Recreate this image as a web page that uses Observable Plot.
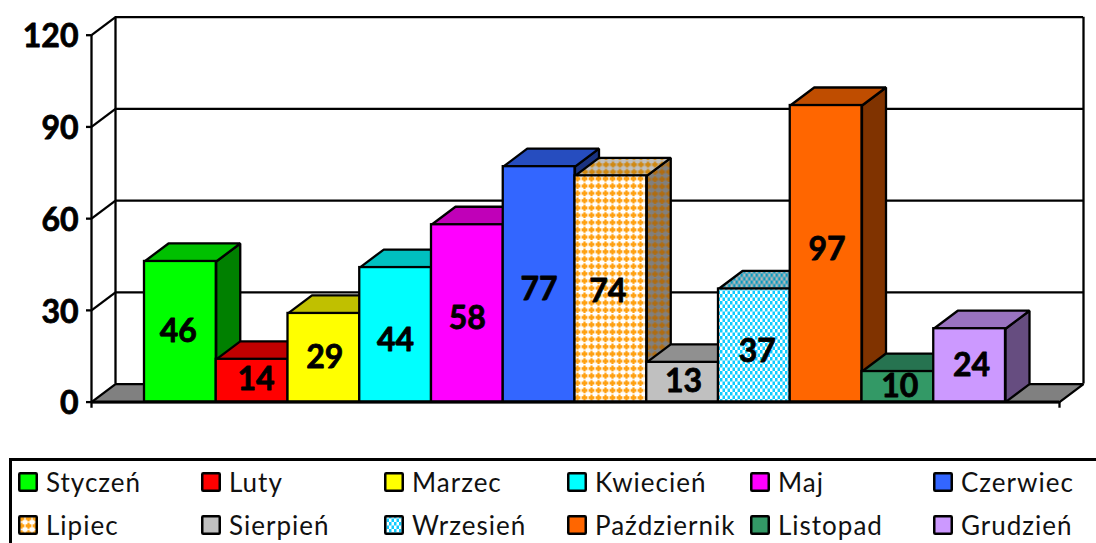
<!DOCTYPE html>
<html><head><meta charset="utf-8">
<script src="https://cdn.jsdelivr.net/npm/d3@7"></script>
<script src="https://cdn.jsdelivr.net/npm/@observablehq/plot@0.6"></script>
<style>
html,body{margin:0;padding:0;background:#fff;overflow:hidden}
#chart svg{display:block}
#legend{box-sizing:border-box;margin-left:9px;height:85px;border-top:3px solid #000;border-left:3px solid #000;
 padding:9px 0 0 6px;display:grid;grid-template-columns:repeat(6,183px);grid-auto-rows:43px;
 font:26px Lato,sans-serif;letter-spacing:1px;color:#111;align-items:start}
#legend .it{display:flex;align-items:center;height:23px}
#legend svg{width:20px;height:20px;margin-right:8px;flex:none;display:block}
</style></head><body>
<div id="chart"></div><div id="legend"></div>
<script>
const months=["Styczeń","Luty","Marzec","Kwiecień","Maj","Czerwiec","Lipiec","Sierpień","Wrzesień","Październik","Listopad","Grudzień"];
const values=[46,14,29,44,58,77,74,13,37,97,10,24];
const yTicks=[0,30,60,90,120];
const frontColors=["#00ff00","#ff0000","#ffff00","#00ffff","#ff00ff","#3366ff","url(#pLipF)","#c0c0c0","url(#pWrzF)","#ff6600","#339966","#cc99ff"];
const topColors=["#00c000","#c00000","#c0c000","#00c0c0","#c000b8","#264dbf","url(#pLipT)","#909090","url(#pWrzT)","#bf4d00","#267350","#9973bf"];
const sideColors=["#008000","#800000","#808000","#008080","#800080","#1a3380","url(#pLipS)","#606060","url(#pWrzS)","#803300","#1a4d33","#664d80"];
// hand-placed data-label offsets, pixels from each bar's centre
const labelDx=[-2,4,1,0,0,0,-3,1,3,1,2,2];
const labelDy=[0,-1,0,6,5.5,5.5,3,0,6,-4,0,0];

// depth and axis extents, in scale units
const barPx=(1005-144)/12, unitPx=(401.6-34.7)/120;
const dX=24/barPx, dY=18/unitPx;
const xL=-53/barPx, xR=12+54/barPx;
const sw=2.3;

function pattern(id,w,h,bg,fg,shape){
  return `<pattern id="${id}" width="${w}" height="${h}" patternUnits="userSpaceOnUse"><rect width="${w}" height="${h}" fill="${bg}"/>${shape(fg)}</pattern>`;
}
const blob=c=>`<path d="M2.4 0.5H4.6V2H6.4V5H4.6V6.5H2.4V5H0.6V2H2.4Z" fill="${c}"/>`;
const check=c=>`<rect width="2.5" height="3.5" fill="${c}"/><rect x="2.5" y="3.5" width="2.5" height="3.5" fill="${c}"/>`;
const defsMark=()=>{
  const g=document.createElementNS("http://www.w3.org/2000/svg","defs");
  g.innerHTML=pattern("pLipF",7,7.3,"#fff","#ffa010",blob)+pattern("pLipT",7,7.3,"#c0c0c0","#d08810",blob)+pattern("pLipS",7,7.3,"#808080","#b06c10",blob)
   +pattern("pWrzF",5,7,"#fff","#10ccff",check)+pattern("pWrzT",5,7,"#b8b8b8","#0a9abf",check)+pattern("pWrzS",5,7,"#808080","#086a80",check);
  return g;
};
const poly=(pts,fill)=>Plot.line(pts.map(([x,y])=>({x,y})),{x:"x",y:"y",fill,stroke:"#000",strokeWidth:sw,curve:"linear-closed",strokeLinejoin:"miter"});

const bars=values.flatMap((v,i)=>[
  poly([[i+1,0],[i+1+dX,dY],[i+1+dX,v+dY],[i+1,v]],sideColors[i]),
  poly([[i,v],[i+dX,v+dY],[i+1+dX,v+dY],[i+1,v]],topColors[i]),
  Plot.rect([v],{x1:i,x2:i+1,y1:0,y2:v,fill:frontColors[i],stroke:"#000",strokeWidth:sw})
]);

const labelFont={fontSize:32,fontWeight:700,fontFamily:"Lato, sans-serif",fill:"#000",stroke:"#000",strokeWidth:.8};

const plot=Plot.plot({
  width:1096,height:458,margin:0,
  x:{domain:[0,12],range:[144,1005],axis:null},
  y:{domain:[0,120],range:[401.6,34.7],axis:null},
  style:{background:"transparent"},
  marks:[
    defsMark,
    Plot.link(yTicks.slice(1),{x1:xL,x2:xL+dX,y1:d=>d,y2:d=>d+dY,stroke:"#000",strokeWidth:sw}),
    Plot.ruleY(yTicks.slice(1),{x1:xL+dX,x2:xR+dX,y:d=>d+dY,stroke:"#000",strokeWidth:sw}),
    Plot.ruleX([xL+dX,xR+dX],{y1:dY,y2:120+dY,stroke:"#000",strokeWidth:sw}),
    poly([[xL,0],[xL+dX,dY],[xR+dX,dY],[xR,0]],"#808080"),
    ...bars,
    Plot.ruleX([xL],{y1:-2,y2:120,stroke:"#000",strokeWidth:sw}),
    Plot.ruleX([xR],{y1:-2,y2:0,stroke:"#000",strokeWidth:sw}),
    Plot.ruleY([0],{x1:xL,x2:xR,stroke:"#000",strokeWidth:3}),
    Plot.axisY(yTicks,{anchor:"left",x:xL,tickSize:5,label:null,stroke:"#000",strokeWidth:sw,fill:"none"}),
    Plot.text(yTicks,{x:xL,y:d=>d,text:d=>String(d),textAnchor:"end",dx:-13,dy:2,...labelFont}),
    Plot.text(values,{x:(d,i)=>i+.5+labelDx[i]/barPx,y:(d,i)=>d/2-labelDy[i]/unitPx,text:d=>String(d),...labelFont})
  ]
});
document.getElementById("chart").append(plot);

const legend=document.getElementById("legend");
months.forEach((m,i)=>{
  const it=document.createElement("div");it.className="it";
  it.innerHTML=`<svg viewBox="0 0 20 20"><rect x="1.25" y="1.25" width="17.5" height="17.5" rx="1" fill="${frontColors[i]}" stroke="#000" stroke-width="2.5"/></svg><span>${m}</span>`;
  legend.append(it);
});
</script></body></html>
